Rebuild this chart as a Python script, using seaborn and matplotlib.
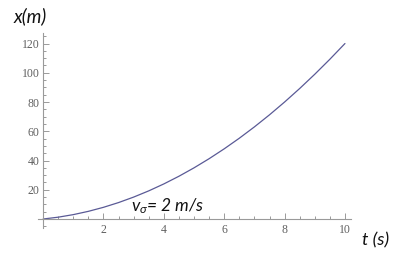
import matplotlib
matplotlib.use("Agg")
import matplotlib.pyplot as plt
import seaborn as sns
import pandas as pd
from matplotlib.ticker import MultipleLocator

# data
t_vals = [0, 0.5, 1, 1.5, 2, 2.5, 3, 3.5, 4, 4.5, 5, 5.5, 6, 6.5, 7, 7.5, 8, 8.5, 9, 9.5, 10]
x_vals = [0, 1.25, 3, 5.25, 8, 11.25, 15, 19.25, 24, 29.25, 35, 41.25, 48, 55.25, 63,
          71.25, 80, 89.25, 99, 109.25, 120]
x_ticks = [2, 4, 6, 8, 10]
y_ticks = [20, 40, 60, 80, 100, 120]
annotation = r"$v_{\sigma}$= 2 m/s"

sns.set_style("white")
plt.rcParams['font.family'] = ['Lato', 'DejaVu Sans']
plt.rcParams['mathtext.fontset'] = 'custom'
plt.rcParams['mathtext.it'] = 'Lato:italic'
plt.rcParams['mathtext.rm'] = 'Lato'

W, H = 393, 260
fig = plt.figure(figsize=(W / 100, H / 100), dpi=100)
ax = fig.add_axes([38 / W, (H - 228) / H, 313 / W, 195 / H])

df = pd.DataFrame({"t": t_vals, "x": x_vals})
sns.lineplot(data=df, x="t", y="x", ax=ax, color="#5a5a96", linewidth=0.9)

ax.set_xlim(-0.17, 10.2)
ax.set_ylim(-6.15, 127.2)
ax.set_xlabel("")
ax.set_ylabel("")

for s in ["top", "right"]:
    ax.spines[s].set_visible(False)
for s in ["left", "bottom"]:
    ax.spines[s].set_position(("data", 0))
    ax.spines[s].set_color("#9a9a9a")
    ax.spines[s].set_linewidth(0.8)

ax.set_xticks(x_ticks)
ax.set_yticks(y_ticks)
ax.xaxis.set_minor_locator(MultipleLocator(0.5))
ax.yaxis.set_minor_locator(MultipleLocator(5))
ax.tick_params(which="both", direction="in", color="#9a9a9a", width=0.7,
               bottom=True, left=True, top=False, right=False)
ax.tick_params(which="major", length=4)
ax.tick_params(which="minor", length=2.2)
ax.tick_params(axis="x", which="major", pad=3.5)
ax.tick_params(axis="y", which="major", pad=2.5)
for lab in ax.get_xticklabels() + ax.get_yticklabels():
    lab.set_fontfamily("Liberation Serif")
    lab.set_fontsize(8.5)
    lab.set_color("#606060")

fig.text(14 / W, 1 - 16 / H, "x(m)", fontsize=13.5, style="italic", va="center", ha="left", color="#111111")
fig.text(362 / W, 1 - 240 / H, "t (s)", fontsize=13, style="italic", va="center", ha="left", color="#111111")
fig.text(131 / W, 1 - 211 / H, annotation, fontsize=12.5, style="italic", va="baseline", ha="left", color="#111111")

fig.savefig("out.png", dpi=100)
